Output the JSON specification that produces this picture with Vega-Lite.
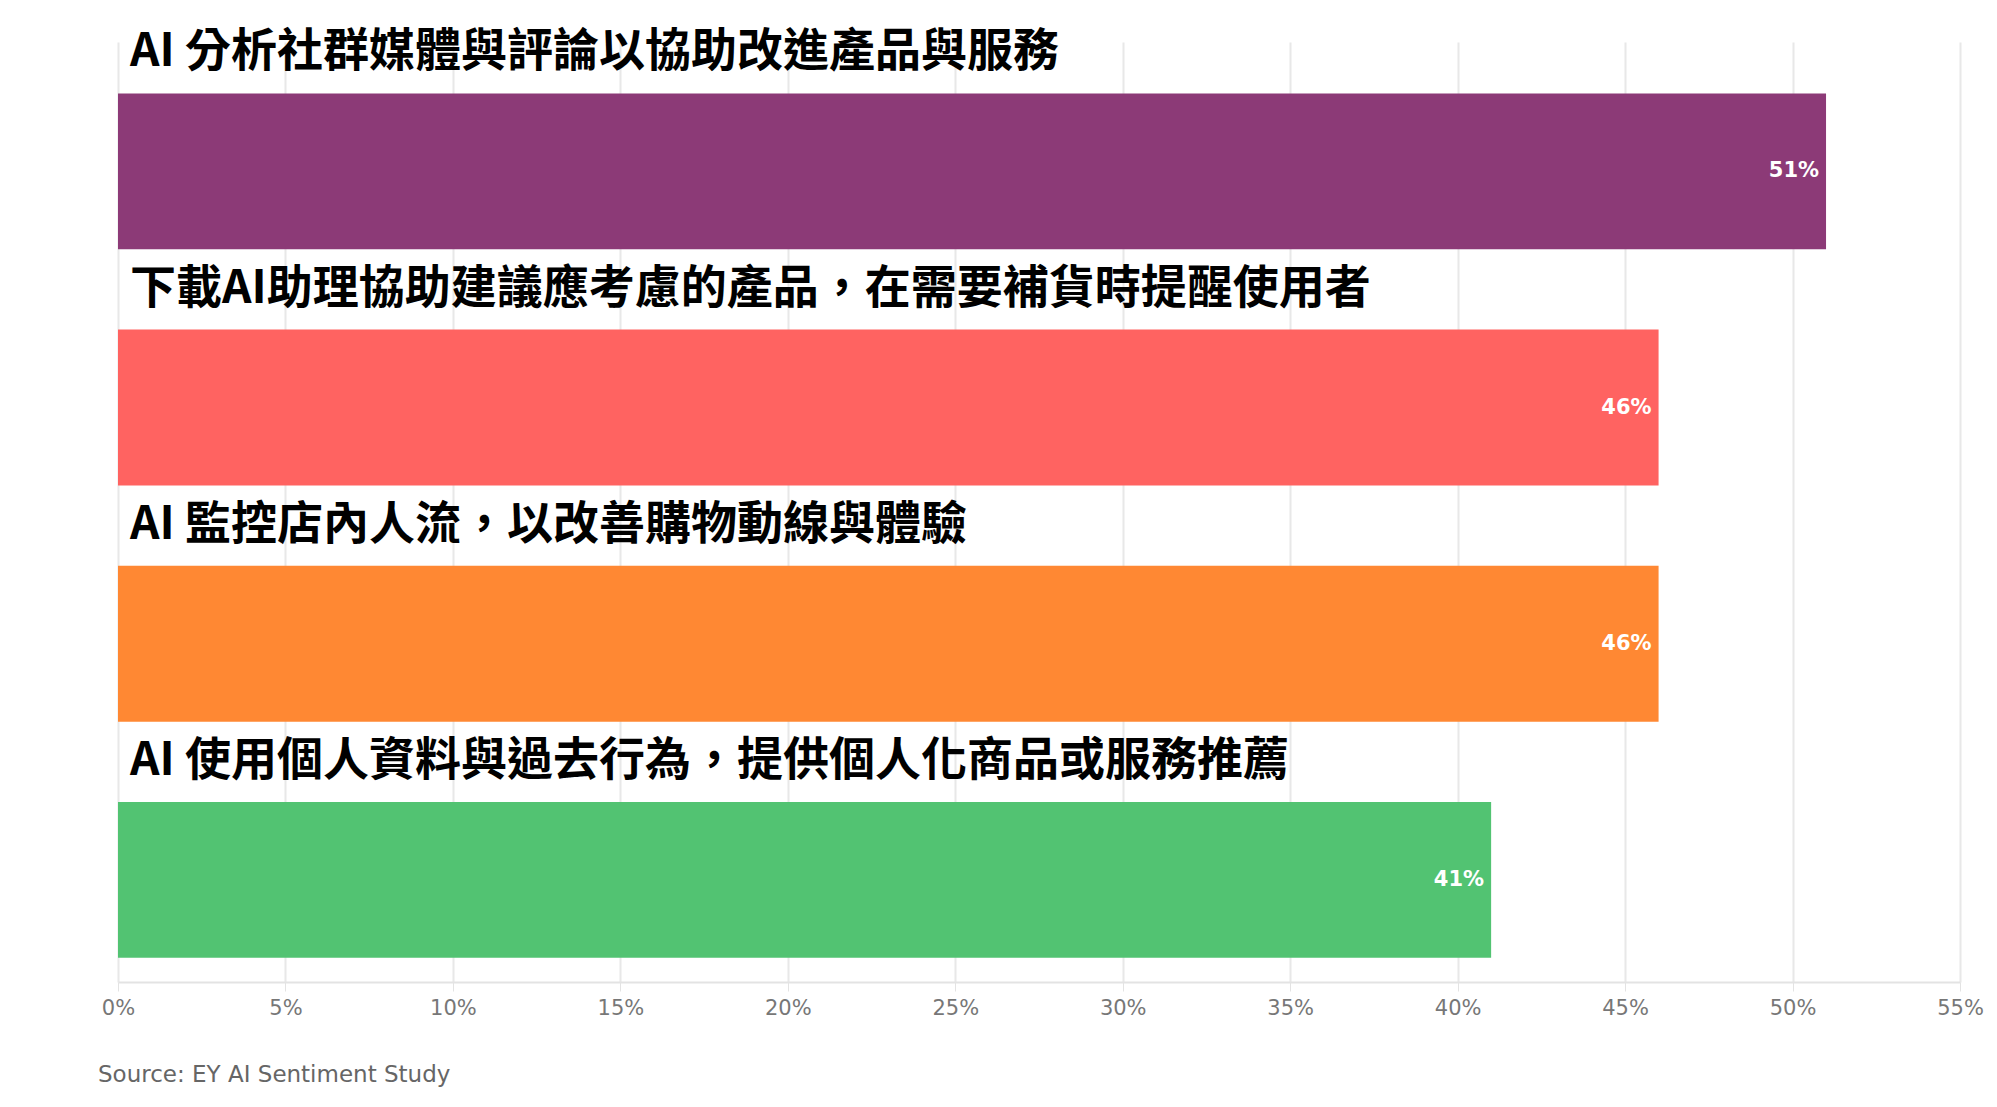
{
  "$schema": "https://vega.github.io/schema/vega-lite/v6.json",
  "description": "AI use cases in retail, share of respondents.",
  "autosize": {"type": "none"},
  "padding": {"left": 118, "top": 42, "right": 37, "bottom": 125},
  "width": 1842,
  "height": 940,
  "background": "white",
  "title": {
    "text": "Source: EY AI Sentiment Study",
    "orient": "bottom",
    "anchor": "start",
    "frame": "group",
    "offset": 46,
    "dx": -20,
    "font": "DejaVu Sans",
    "fontSize": 23,
    "fontWeight": "normal",
    "color": "#666666"
  },
  "data": {
    "values": [
      {"item": "AI 分析社群媒體與評論以協助改進產品與服務", "value": 51, "pct": "51%"},
      {"item": "下載AI助理協助建議應考慮的產品，在需要補貨時提醒使用者", "value": 46, "pct": "46%"},
      {"item": "AI 監控店內人流，以改善購物動線與體驗", "value": 46, "pct": "46%"},
      {"item": "AI 使用個人資料與過去行為，提供個人化商品或服務推薦", "value": 41, "pct": "41%"}
    ]
  },
  "encoding": {
    "y": {
      "field": "item",
      "type": "nominal",
      "sort": null,
      "axis": null,
      "scale": {"paddingInner": 0.34, "paddingOuter": 0.16, "align": 0.68}
    }
  },
  "layer": [
    {
      "mark": {"type": "bar"},
      "encoding": {
        "x": {
          "field": "value",
          "type": "quantitative",
          "title": null,
          "scale": {"domain": [0, 55], "nice": false},
          "axis": {
            "values": [0, 5, 10, 15, 20, 25, 30, 35, 40, 45, 50, 55],
            "labelExpr": "datum.value + '%'",
            "labelFlush": false,
            "labelFont": "DejaVu Sans",
            "labelFontSize": 21,
            "labelColor": "#777777",
            "labelPadding": 6,
            "tickSize": 9,
            "tickColor": "#e3e3e3",
            "domainColor": "#e3e3e3",
            "domainWidth": 2,
            "grid": true,
            "gridColor": "#e8e8e8",
            "gridWidth": 2
          }
        },
        "color": {
          "field": "item",
          "type": "nominal",
          "legend": null,
          "scale": {
            "domain": [
              "AI 分析社群媒體與評論以協助改進產品與服務",
              "下載AI助理協助建議應考慮的產品，在需要補貨時提醒使用者",
              "AI 監控店內人流，以改善購物動線與體驗",
              "AI 使用個人資料與過去行為，提供個人化商品或服務推薦"
            ],
            "range": ["#8c3a77", "#ff6361", "#ff8833", "#52c372"]
          }
        }
      }
    },
    {
      "mark": {
        "type": "text",
        "align": "right",
        "baseline": "middle",
        "dx": -7,
        "font": "DejaVu Sans",
        "fontSize": 21,
        "fontWeight": "bold",
        "color": "white"
      },
      "encoding": {
        "x": {"field": "value", "type": "quantitative"},
        "text": {"field": "pct"}
      }
    },
    {
      "mark": {
        "type": "text",
        "align": "left",
        "baseline": "middle",
        "dx": 12,
        "dy": -41,
        "font": "Noto Sans CJK TC",
        "fontSize": 46,
        "fontWeight": "bold",
        "color": "#000000"
      },
      "encoding": {
        "x": {"datum": 0, "type": "quantitative"},
        "y": {"field": "item", "type": "nominal", "sort": null, "bandPosition": 0},
        "text": {"field": "item"}
      }
    }
  ],
  "config": {
    "view": {"stroke": null}
  }
}
